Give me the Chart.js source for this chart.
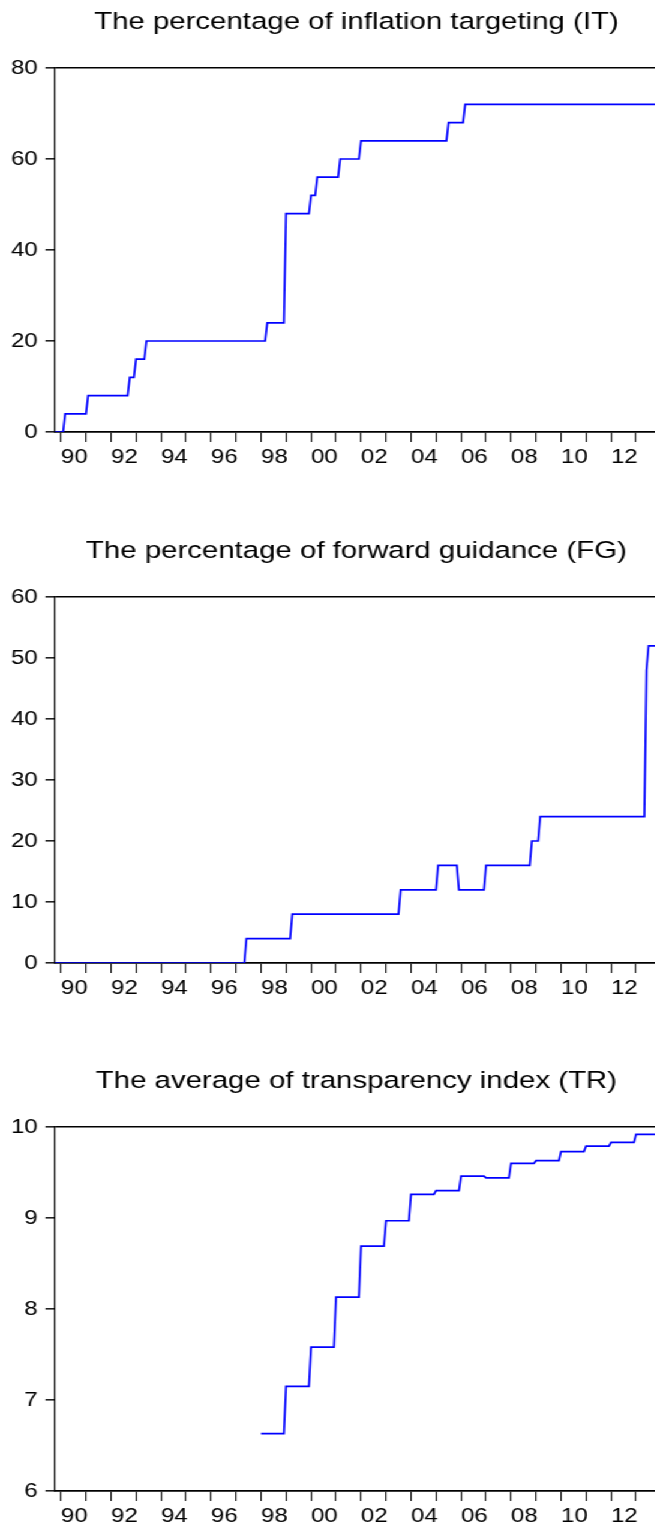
<!DOCTYPE html>
<html>
<head>
<meta charset="utf-8">
<script src="https://cdn.jsdelivr.net/npm/chart.js@4.4.1/dist/chart.umd.min.js"></script>
<style>
  html, body { margin: 0; padding: 0; background: #fff; overflow: hidden; width: 655px; height: 1526px; }
  /* the three panels are laid out on a narrower sheet that is widened horizontally */
  #sheet { position: absolute; left: 0; top: 0; width: 594px; height: 1526px; transform: scaleX(1.2); transform-origin: 0 0; }
  #sheet canvas { position: absolute; left: 0; display: block; }
</style>
</head>
<body>
<div id="sheet">
  <canvas id="itChart" width="594" height="480" style="top:0px"></canvas>
  <canvas id="fgChart" width="594" height="480" style="top:529px"></canvas>
  <canvas id="trChart" width="594" height="467" style="top:1059px"></canvas>
</div>
<script>
// ---- data (monthly series, given as the month each new level begins) ----
const sampleStart = '1989-10';
const sampleEnd = '2013-12';

// Inflation targeting: share of the 25 central banks (%)
const itMonths = ['1989-10', '1990-03', '1991-02', '1992-10', '1993-01', '1993-06', '1998-04', '1999-01',
                  '2000-01', '2000-04', '2001-03', '2002-01', '2005-07', '2006-03'];
const itValues = [0, 4, 8, 12, 16, 20, 24, 48, 52, 56, 60, 64, 68, 72];

// Forward guidance: share of the 25 central banks (%)
const fgMonths = ['1989-10', '1997-06', '1999-04', '2003-08', '2005-02', '2005-12', '2007-01', '2008-11',
                  '2009-03', '2013-06', '2013-07'];
const fgValues = [0, 4, 8, 12, 16, 12, 16, 20, 24, 48, 52];

// Transparency index: yearly average, held through each year
const trYears = ['1998', '1999', '2000', '2001', '2002', '2003', '2004', '2005',
                 '2006', '2007', '2008', '2009', '2010', '2011', '2012', '2013'];
const trValues = [6.63, 7.15, 7.58, 8.13, 8.69, 8.97, 9.26, 9.30,
                  9.46, 9.44, 9.60, 9.63, 9.73, 9.79, 9.83, 9.92];

// x-axis: a tick every year, a label every second year
const tickYears = [1990, 1991, 1992, 1993, 1994, 1995, 1996, 1997, 1998, 1999, 2000, 2001, 2002,
                   2003, 2004, 2005, 2006, 2007, 2008, 2009, 2010, 2011, 2012, 2013, 2014, 2015];
const tickLabels = ['90', '92', '94', '96', '98', '00', '02', '04', '06', '08', '10', '12', '14'];

// ---- helpers ----
const FONT = "'Liberation Sans', Arial, Helvetica, sans-serif";
const X_MIN = 1989.75;
const X_MAX = 2016.07;

function monthToYear(s) {
  const [y, m] = s.split('-').map(Number);
  return y + ((m || 1) - 1) / 12;
}

// each level runs from its first month to the month before the next change
function stepPoints(months, values, endMonth) {
  const pts = [];
  for (let i = 0; i < months.length; i++) {
    const start = monthToYear(months[i]);
    const end = i + 1 < months.length ? monthToYear(months[i + 1]) - 1 / 12 : monthToYear(endMonth);
    pts.push({ x: start, y: values[i] });
    pts.push({ x: end, y: values[i] });
  }
  return pts;
}

function yearLabel(v) {
  const i = tickYears.indexOf(v);
  if (i < 0 || (v - 1990) % 2 !== 0) return '';
  return tickLabels[(v - 1990) / 2] || '';
}

function makePanel(id, title, points, yMin, yMax, yStep, xAxisHeight) {
  return new Chart(document.getElementById(id), {
    type: 'line',
    data: {
      datasets: [{
        data: points,
        borderColor: '#0000ff',
        borderWidth: 1.7,
        pointRadius: 0,
        tension: 0,
        fill: false
      }]
    },
    options: {
      responsive: false,
      animation: false,
      devicePixelRatio: 1,
      layout: { padding: 0 },
      plugins: {
        legend: { display: false },
        tooltip: { enabled: false },
        title: {
          display: true,
          text: title,
          color: '#000',
          font: { family: FONT, size: 24.5, weight: 'normal' },
          padding: { top: 7.5, bottom: 31.1 }
        }
      },
      scales: {
        x: {
          type: 'linear',
          min: X_MIN,
          max: X_MAX,
          bounds: 'data',
          afterBuildTicks: (s) => { s.ticks = tickYears.map(v => ({ value: v })); },
          afterFit: (s) => { s.height = xAxisHeight; },
          ticks: {
            autoSkip: false,
            maxRotation: 0,
            minRotation: 0,
            align: 'start',
            padding: 3,
            color: '#000',
            font: { family: FONT, size: 20 },
            callback: (v) => yearLabel(v)
          },
          grid: { drawOnChartArea: false, tickLength: 10, tickColor: '#111', lineWidth: 1.1 },
          border: { color: '#000', width: 1.7 }
        },
        y: {
          min: yMin,
          max: yMax,
          afterFit: (s) => { s.width = 45.625; },
          ticks: {
            stepSize: yStep,
            padding: 6.5,
            color: '#000',
            font: { family: FONT, size: 20 }
          },
          grid: {
            color: (ctx) => (ctx.tick && ctx.tick.value === yMax) ? '#000' : 'rgba(0,0,0,0)',
            tickColor: '#222',
            tickLength: 7.75,
            lineWidth: 1.6
          },
          border: { color: '#000', width: 1.15 }
        }
      }
    }
  });
}

const trMonths = trYears.map(y => y + '-01');

makePanel('itChart', 'The percentage of inflation targeting (IT)',
  stepPoints(itMonths, itValues, sampleEnd), 0, 80, 20, 48);
makePanel('fgChart', 'The percentage of forward guidance (FG)',
  stepPoints(fgMonths, fgValues, sampleEnd), 0, 60, 10, 46);
makePanel('trChart', 'The average of transparency index (TR)',
  stepPoints(trMonths, trValues, sampleEnd), 6, 10, 1, 35);
</script>
</body>
</html>
